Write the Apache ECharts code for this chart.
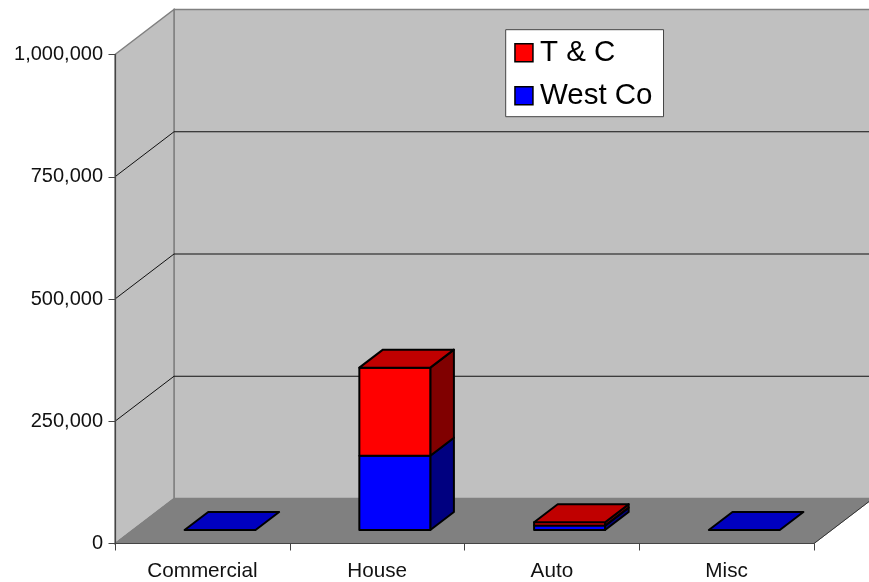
<!DOCTYPE html>
<html>
<head>
<meta charset="utf-8">
<style>html,body{margin:0;padding:0;background:#fff}#c{width:869px;height:582px}</style>
<script src="https://cdn.jsdelivr.net/npm/echarts@6/dist/echarts.min.js"></script>
</head>
<body>
<div id="c"></div>
<script>
var categories = ['Commercial', 'House', 'Auto', 'Misc'];
var westCoValues = [0, 152000, 9000, 0];
var tcValues = [0, 180000, 7000, 0];
var wallLevels = [250000, 500000, 750000];
var axisMax = 1000000;
var axisStep = 250000;

var DX = 59, DY = -45;          // chart depth in pixels
var BAR_FRONT = 0.3, BAR_BACK = 0.7, BAR_WIDTH = 0.406;
var FONT = '"Liberation Sans", Arial, sans-serif';

function wallsItem(params, api) {
  var bw = api.size([1, 0])[0];
  var p0 = api.coord([0, 0]), pT = api.coord([0, axisMax]), pR = api.coord([categories.length - 1, 0]);
  var xL = p0[0] - bw / 2, xR = pR[0] + bw / 2, yB = p0[1], yT = pT[1];
  var kids = [
    { type: 'polygon', shape: { points: [[xL + DX, yT + DY], [xR + DX, yT + DY], [xR + DX, yB + DY], [xL + DX, yB + DY]] },
      style: { fill: '#c0c0c0', stroke: '#808080', lineWidth: 1.5 } },
    { type: 'polygon', shape: { points: [[xL, yT], [xL + DX, yT + DY], [xL + DX, yB + DY], [xL, yB]] },
      style: { fill: '#c0c0c0', stroke: '#808080', lineWidth: 1.5 } },
    { type: 'polygon', shape: { points: [[xL, yB], [xL + DX, yB + DY], [xR + DX, yB + DY], [xR, yB]] },
      style: { fill: '#808080', stroke: '#808080', lineWidth: 1 } },
    { type: 'line', shape: { x1: xR, y1: yB, x2: xR + DX, y2: yB + DY }, style: { stroke: '#333', lineWidth: 1 } }
  ];
  wallLevels.forEach(function (v) {
    var y = api.coord([0, v])[1];
    kids.push({ type: 'polyline', shape: { points: [[xL, y], [xL + DX, y + DY], [xR + DX, y + DY]] },
      style: { fill: 'none', stroke: '#111', lineWidth: 1 } });
  });
  return { type: 'group', children: kids };
}

function box(api, catIndex, from, to, front, side, top, showTop) {
  var bw = api.size([1, 0])[0];
  var a = api.coord([catIndex, from]), b = api.coord([catIndex, to]);
  var x0 = a[0] - bw * BAR_WIDTH / 2 + DX * BAR_FRONT, x1 = x0 + bw * BAR_WIDTH;
  var y0 = a[1] + DY * BAR_FRONT, y1 = b[1] + DY * BAR_FRONT;
  var dx = DX * (BAR_BACK - BAR_FRONT), dy = DY * (BAR_BACK - BAR_FRONT);
  function st(fill) { return { fill: fill, stroke: '#000', lineWidth: 2, lineJoin: 'round' }; }
  var kids = [];
  if (to > from) {
    kids.push({ type: 'polygon', shape: { points: [[x1, y1], [x1 + dx, y1 + dy], [x1 + dx, y0 + dy], [x1, y0]] }, style: st(side) });
    kids.push({ type: 'polygon', shape: { points: [[x0, y1], [x1, y1], [x1, y0], [x0, y0]] }, style: st(front) });
  }
  if (showTop) {
    kids.push({ type: 'polygon', shape: { points: [[x0, y1], [x0 + dx, y1 + dy], [x1 + dx, y1 + dy], [x1, y1]] }, style: st(top) });
  }
  return { type: 'group', children: kids };
}

var chart = echarts.init(document.getElementById('c'), null, { renderer: 'canvas' });
chart.setOption({
  animation: false,
  backgroundColor: '#ffffff',
  grid: { left: 115, right: 55, top: 54.5, bottom: 38.5, containLabel: false },
  legend: {
    left: 505.7, top: 29.7, orient: 'vertical',
    data: [{ name: 'T & C', icon: 'rect' }, { name: 'West Co', icon: 'rect' }],
    backgroundColor: '#ffffff', borderColor: '#444', borderWidth: 1,
    padding: [8, 11, 6, 8.5], itemGap: 13, itemWidth: 18, itemHeight: 18,
    itemStyle: { borderColor: '#000', borderWidth: 1.5 },
    textStyle: { fontFamily: FONT, fontSize: 29.5, lineHeight: 26, color: '#000', padding: [3, 0, 0, 2] },
    selectedMode: false
  },
  xAxis: {
    type: 'category', data: categories, z: 10,
    axisLine: { show: true, lineStyle: { color: '#444', width: 1.2 } },
    axisTick: { show: true, alignWithLabel: false, length: 7, lineStyle: { color: '#444' } },
    axisLabel: { fontFamily: FONT, fontSize: 20.7, color: '#111', margin: 17 },
    splitLine: { show: false }
  },
  yAxis: {
    type: 'value', min: 0, max: axisMax, interval: axisStep, z: 10,
    axisLine: { show: true, lineStyle: { color: '#444', width: 1.2 } },
    axisTick: { show: true, length: 6.5, lineStyle: { color: '#444' } },
    axisLabel: { fontFamily: FONT, fontSize: 20, color: '#111', margin: 12, padding: [3, 0, 0, 0],
      formatter: function (v) { return v.toLocaleString('en-US'); } },
    splitLine: { show: false }
  },
  series: [
    { type: 'custom', name: 'walls', silent: true, z: 1, clip: false, data: [[0, 0]], renderItem: wallsItem },
    { type: 'custom', name: 'West Co', z: 3, clip: false,
      itemStyle: { color: '#0000ff' },
      data: westCoValues.map(function (v, i) { return [i, v]; }),
      renderItem: function (params, api) {
        var i = api.value(0), v = api.value(1);
        return box(api, i, 0, v, '#0000ff', '#000080', '#0000c0', tcValues[i] === 0);
      } },
    { type: 'custom', name: 'T & C', z: 4, clip: false,
      itemStyle: { color: '#ff0000' },
      data: tcValues.map(function (v, i) { return [i, v]; }),
      renderItem: function (params, api) {
        var i = api.value(0), v = api.value(1);
        if (v === 0) return null;
        return box(api, i, westCoValues[i], westCoValues[i] + v, '#ff0000', '#800000', '#c00000', true);
      } }
  ]
});
</script>
</body>
</html>
